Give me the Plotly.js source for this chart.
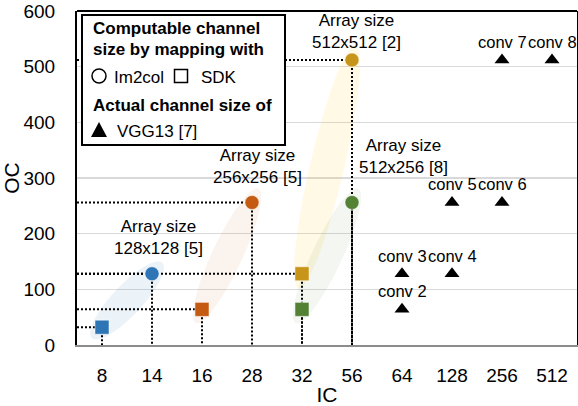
<!DOCTYPE html>
<html><head><meta charset="utf-8">
<script src="https://cdn.plot.ly/plotly-3.0.1.min.js"></script>
<style>html,body{margin:0;padding:0;background:#fff}#chart{width:578px;height:406px}</style>
</head><body><div id="chart"></div>
<script>
// ---- data ----
const icCategories = ['8','14','16','28','32','56','64','128','256','512'];
const ocTicks = [0,100,200,300,400,500,600];
const arraySizes = ['128x128 [5]','256x256 [5]','512x512 [2]','512x256 [8]'];
const sdkIC = ['8','16','32','32'];
const sdkOC = [32,64,128,64];
const im2colIC = ['14','28','56','56'];
const im2colOC = [128,256,512,256];
const vggIC = ['64','64','128','128','256','256','512'];
const vggOC = [64,128,128,256,256,512,512];
const vggLabels = ['conv 2','conv 3','conv 4','conv 5','conv 6','conv 7','conv 8'];

// ---- styles ----
const groupColors = ['#2E75B6','#C55A11','#C8951B','#548235'];
const ellipseFills = ['rgba(46,117,182,0.09)','rgba(197,90,17,0.07)','rgba(255,192,0,0.10)','rgba(84,130,53,0.07)'];
const drawHGuide = [true,true,true,false];
const labelShift = [[6,14],[5,13],[4,6],[51,23]];
const FONT = 'Liberation Sans, Arial, sans-serif';

const L = 77, R = 1, T = 11, B = 61, W = 578, H = 406;
const plotW = W - L - R, plotH = H - T - B;
const xRange = [-0.5, 9.5], yRange = [0, 600];
const pxX = plotW / (xRange[1] - xRange[0]);
const pxY = plotH / (yRange[1] - yRange[0]);
const idx = c => icCategories.indexOf(c);

// guide lines
const gx = [], gy = [];
function addGuides(ics, ocs) {
  ics.forEach((c, i) => {
    const x = idx(c), y = ocs[i];
    if (drawHGuide[i]) { gx.push(xRange[0], x, null); gy.push(y, y, null); }
    gx.push(x, x, null); gy.push(y, 0, null);
  });
}
addGuides(sdkIC, sdkOC);
addGuides(im2colIC, im2colOC);

// ellipses
function ellipsePath(xa, ya, xb, yb, pad, bMinor) {
  const X1 = xa * pxX, Y1 = ya * pxY, X2 = xb * pxX, Y2 = yb * pxY;
  const cx = (X1 + X2) / 2, cy = (Y1 + Y2) / 2;
  const th = Math.atan2(Y2 - Y1, X2 - X1);
  const a = Math.hypot(X2 - X1, Y2 - Y1) / 2 + pad;
  let p = '';
  for (let k = 0; k <= 72; k++) {
    const t = k / 72 * 2 * Math.PI;
    const ex = cx + a * Math.cos(t) * Math.cos(th) - bMinor * Math.sin(t) * Math.sin(th);
    const ey = cy + a * Math.cos(t) * Math.sin(th) + bMinor * Math.sin(t) * Math.cos(th);
    p += (k === 0 ? 'M' : 'L') + (ex / pxX).toFixed(4) + ',' + (ey / pxY).toFixed(3);
  }
  return p + 'Z';
}
const shapes = [];
sdkIC.forEach((c, i) => {
  shapes.push({type:'path', xref:'x', yref:'y', layer:'between',
    path: ellipsePath(idx(c), sdkOC[i], idx(im2colIC[i]), im2colOC[i], 15, i === 2 ? 17 : 15),
    fillcolor: ellipseFills[i], line:{width:0}});
});

// top border
shapes.push({type:'line', xref:'paper', yref:'paper', x0:0, x1:1, y0:1, y1:1, line:{color:'#000', width:2}, layer:'above'});

// legend box
const pX = px => (px - L) / plotW;
const pY = py => (H - B - py) / plotH;
shapes.push({type:'rect', xref:'paper', yref:'paper', x0:pX(82), x1:pX(285), y0:pY(145), y1:pY(15),
  fillcolor:'#fff', line:{color:'#000', width:2}, layer:'above'});
shapes.push({type:'circle', xref:'paper', yref:'paper', xsizemode:'pixel', ysizemode:'pixel',
  xanchor:pX(99), yanchor:pY(76), x0:-7, x1:7, y0:-7, y1:7, line:{color:'#000', width:1.5}, fillcolor:'#fff', layer:'above'});
shapes.push({type:'rect', xref:'paper', yref:'paper', xsizemode:'pixel', ysizemode:'pixel',
  xanchor:pX(181), yanchor:pY(76), x0:-6.5, x1:6.5, y0:-6.5, y1:6.5, line:{color:'#000', width:1.5}, fillcolor:'#fff', layer:'above'});
shapes.push({type:'path', xref:'paper', yref:'paper', xsizemode:'pixel', ysizemode:'pixel',
  xanchor:pX(99), yanchor:pY(130), path:'M-8,-7L8,-7L0,8Z', line:{width:0}, fillcolor:'#000', layer:'above'});

const annotations = [];
arraySizes.forEach((s, i) => {
  annotations.push({x: idx(im2colIC[i]), y: im2colOC[i], xref:'x', yref:'y', showarrow:false,
    text:'Array size<br>' + s, xanchor:'center', yanchor:'bottom',
    xshift: labelShift[i][0], yshift: labelShift[i][1], font:{size:17, color:'#000'}});
});
vggLabels.forEach((s, i) => {
  annotations.push({x: idx(vggIC[i]), y: vggOC[i], xref:'x', yref:'y', showarrow:false,
    text: s, xanchor:'center', yanchor:'bottom', yshift: 7, font:{size:16.5, color:'#000'}});
});
const legendText = [
  ['<b>Computable channel</b>', 91, 29],
  ['<b>size by mapping with</b>', 91, 50],
  ['Im2col', 112, 77],
  ['SDK', 199, 77],
  ['<b>Actual channel size of</b>', 91, 105],
  ['VGG13 [7]', 115, 131]
];
legendText.forEach(t => {
  annotations.push({x:pX(t[1]), y:pY(t[2]), xref:'paper', yref:'paper', showarrow:false,
    text:t[0], xanchor:'left', yanchor:'middle', font:{size:17, color:'#000'}});
});

const traces = [
  {x: gx, y: gy, mode:'lines', line:{color:'#000', width:2, dash:'2px,2px'}, hoverinfo:'skip'},
  {x: sdkIC.map(idx), y: sdkOC, mode:'markers',
    marker:{symbol:'square', size:14, color:groupColors, line:{color:'rgba(255,255,255,0.5)', width:1}}},
  {x: im2colIC.map(idx), y: im2colOC, mode:'markers',
    marker:{symbol:'circle', size:14, color:groupColors, line:{color:'rgba(255,255,255,0.5)', width:1}}},
  {x: vggIC.map(idx), y: vggOC, mode:'markers',
    marker:{symbol:'triangle-up', size:13, color:'#000'}}
];

const layout = {
  width: W, height: H, showlegend:false,
  margin:{l:L, r:R, t:T, b:B, pad:0},
  paper_bgcolor:'#fff', plot_bgcolor:'#fff',
  font:{family:FONT, color:'#000'},
  xaxis:{range:xRange, tickmode:'array', tickvals:icCategories.map(idx), ticktext:icCategories,
    showgrid:false, zeroline:false, showline:true, linecolor:'#8c8c8c', linewidth:2,
    ticks:'', ticklabelstandoff:12, tickfont:{size:19},
    title:{text:'IC', font:{size:21}, standoff:6}},
  yaxis:{range:yRange, tickmode:'array', tickvals:ocTicks, ticklabeloverflow:'allow',
    showgrid:true, gridcolor:'#d9d9d9', gridwidth:1.5, zeroline:false,
    showline:true, linecolor:'#000', linewidth:2, mirror:true,
    ticks:'', ticklabelstandoff:16, tickfont:{size:19},
    title:{text:'OC', font:{size:21}, standoff:8}},
  shapes: shapes, annotations: annotations
};
Plotly.newPlot('chart', traces, layout, {staticPlot:true, displayModeBar:false});
</script></body></html>
